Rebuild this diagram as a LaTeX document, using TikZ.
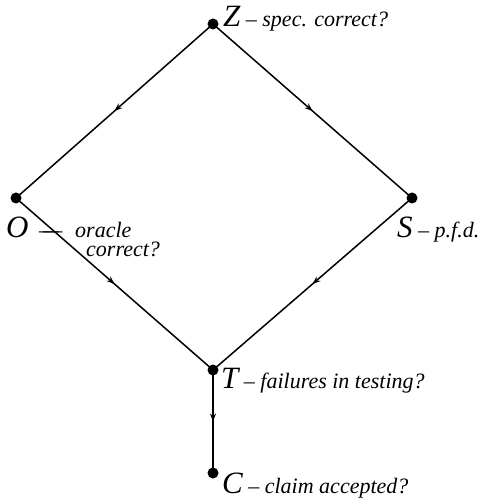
\documentclass[tikz,border=0pt]{standalone}
\usepackage{fontspec}
\setmainfont{Liberation Serif}
\usetikzlibrary{arrows.meta,decorations.markings}
\newcommand{\bigf}{\fontsize{31}{31}\selectfont\itshape}
\newcommand{\smallf}{\fontsize{22}{22}\selectfont\itshape}
\begin{document}
\begin{tikzpicture}[x=1pt,y=-1pt,
  vertex/.style={circle,fill=black,inner sep=0pt,minimum size=11pt},
  lab/.style={anchor=base west,inner sep=0pt},
  flow/.style={line width=1.5pt,
    decoration={markings,mark=at position 0.5 with {\arrow{Stealth[length=8pt,width=6pt]}}},
    postaction={decorate}}]
\useasboundingbox (0,0) rectangle (481,502);
\node[vertex] (Z) at (213,24) {};
\node[vertex] (O) at (16,198) {};
\node[vertex] (S) at (412,198) {};
\node[vertex] (T) at (213,370) {};
\node[vertex] (C) at (213,473) {};
\draw[flow] (Z.center) -- (O.center);
\draw[flow] (Z.center) -- (S.center);
\draw[flow] (O.center) -- (T.center);
\draw[flow] (S.center) -- (T.center);
\draw[flow] (T.center) -- (C.center);
\node[lab] (zl) at (223,27) {\bigf Z\smallf\ – spec. correct?};
\node[lab] (ol) at (6,237) {\bigf O};
\node[lab] (od) at (39,237) {\smallf —\kern-16pt—};
\node[lab] (ol1) at (75,237) {\smallf oracle};
\node[lab] (ol2) at (86,256) {\smallf correct?};
\node[lab] (sl) at (397,237) {\bigf S\smallf\ – p.f.d.};
\node[lab] (tl) at (221,388) {\bigf T\smallf\ – failures in testing?};
\node[lab] (cl) at (222,493) {\bigf C\smallf\ – claim accepted?};
\end{tikzpicture}
\end{document}
